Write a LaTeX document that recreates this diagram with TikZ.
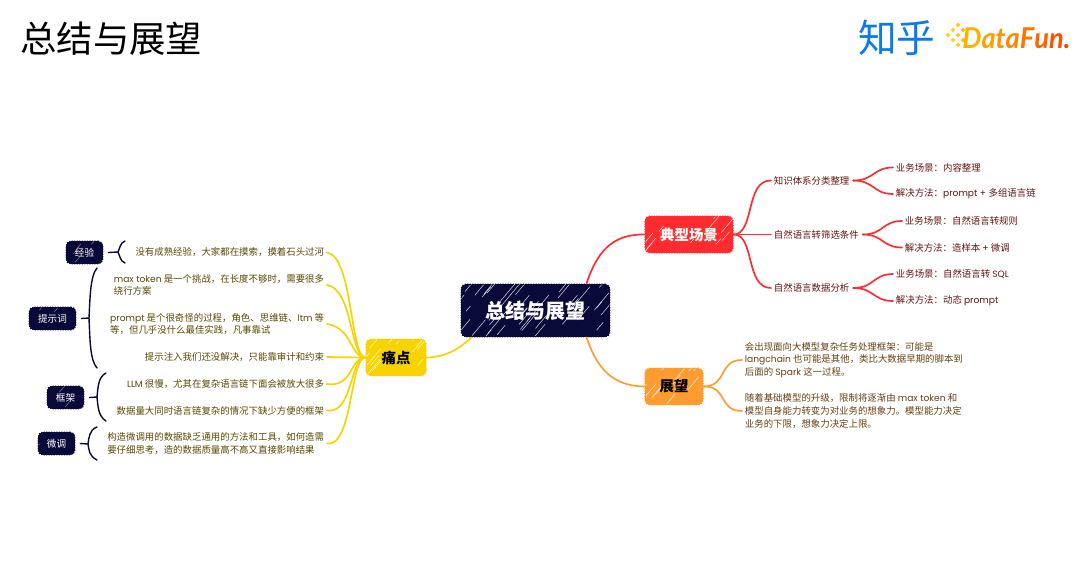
\documentclass[tikz,border=0pt]{standalone}
\usepackage{fontspec}
\setmainfont{Noto Sans CJK SC}
\newfontfamily\logofont{Lato}
\newfontfamily\latf[Scale=0.97]{Poppins}
\newcommand{\lat}[1]{{\latf #1}}
\usetikzlibrary{calc}
\definecolor{navy}{HTML}{0A0A3A}
\definecolor{ylw}{HTML}{F7D400}
\definecolor{rd}{HTML}{FF2B2E}
\definecolor{org}{HTML}{FF9C30}
\definecolor{ytext}{HTML}{594900}
\definecolor{rtext}{HTML}{651414}
\definecolor{otext}{HTML}{654214}
\definecolor{zhihu}{HTML}{0A7BEF}
\newcommand{\hatchlines}[4]{%
  \foreach \k in {1,...,#1}{%
    \pgfmathsetmacro{\hx}{rnd}\pgfmathsetmacro{\hy}{rnd}\pgfmathsetmacro{\hl}{3+rnd*#3}%
    \draw[#2,line width=.4pt,opacity=#4,solid]
      ($(path picture bounding box.south west)!\hx!(path picture bounding box.south east)$)
      ++(-8,{-50*\hy}) -- ++(50:\hl pt);
  }}
\tikzset{
  x=.75pt,y=-.75pt,
  sketch/.style={rounded corners=3.5pt,inner sep=0pt,align=center,densely dotted,line width=.9pt},
  rootbox/.style={sketch,draw=navy,fill=navy,text=white,minimum width=111.5pt,minimum height=39.5pt,
    font=\fontsize{15}{18}\selectfont\bfseries,path picture={\hatchlines{40}{white}{22}{.8}}},
  mainbox/.style={sketch,draw=#1,fill=#1,minimum height=27.5pt,
    font=\fontsize{10.8}{13}\selectfont\bfseries,path picture={\hatchlines{16}{white}{14}{.8}}},
  tagbox/.style={sketch,draw=navy,fill=navy,text=white,minimum height=17pt,
    font=\fontsize{7.2}{9}\selectfont,path picture={\hatchlines{7}{white}{5}{.45}}},
  ytxt/.style={text=ytext,font=\fontsize{7.07}{9.4}\selectfont,inner xsep=2pt,inner ysep=0pt,align=left,anchor=east},
  rtxt/.style={text=rtext,font=\fontsize{7.07}{9.4}\selectfont,inner xsep=2pt,inner ysep=0pt,anchor=west},
  otxt/.style={text=otext,font=\fontsize{7.07}{9.4}\selectfont,inner xsep=2pt,inner ysep=0pt,align=left,anchor=west},
  yl/.style={draw=ylw,line width=1.25pt,line cap=round},
  rl/.style={draw=rd,line width=1.25pt,line cap=round},
  ol/.style={draw=org,line width=1.25pt,line cap=round},
  nl/.style={draw=navy,line width=1.05pt,line cap=round},
  logosq/.style={fill=#1,rotate=45,minimum size=2.6pt,inner sep=0pt,draw=none},
}
\begin{document}
\begin{tikzpicture}
\pgfmathsetseed{42}
\useasboundingbox (0,0) rectangle (1080,565);
\fill[white] (0,0) rectangle (1080,565);

% header
\node[anchor=west,inner sep=0pt,font=\fontsize{27.3}{30}\selectfont] (title) at (20,39) {总结与展望};
\node[anchor=west,inner sep=0pt,text=zhihu,font=\fontsize{29}{32}\selectfont] (zh) at (858,38) {知乎};
\foreach \px/\py/\c in {948/35/FFD21F,953/30/FFD21F,958/25/FFC81F,953/40/FFD21F,958/35/FFC81F,963/30/FFB81F,958/45/FFC81F,963/40/FFB81F}{
  \definecolor{tmpc}{HTML}{\c}
  \node[logosq=tmpc] at (\px,\py) {};
}
\node[anchor=west,inner sep=0pt,xscale=.95,transform shape,font=\logofont\fontsize{21.5}{24}\selectfont\bfseries\itshape] (df) at (962,38)
 {\textcolor[HTML]{FFB000}{D}\textcolor[HTML]{FFA000}{a}\textcolor[HTML]{FF9300}{t}\textcolor[HTML]{FF8600}{a}\textcolor[HTML]{FF7400}{F}\textcolor[HTML]{FF6200}{u}\textcolor[HTML]{FF5000}{n}\textcolor[HTML]{FF3C00}{.}};

% main nodes
\node[rootbox] (root) at (535.5,310.5) {总结与展望};
\node[mainbox=rd,text=white,minimum width=66pt] (scene) at (689,234.5) {典型场景};
\node[mainbox=org,text=black,minimum width=43.5pt] (outlook) at (674,386.5) {展望};
\node[mainbox=ylw,text=black,minimum width=45pt] (pain) at (396,357.5) {痛点};

% right: scenes
\node[rtxt] (s1) at (771,180.5) {知识体系分类整理};
\node[rtxt] (s2) at (771,234.5) {自然语言转筛选条件};
\node[rtxt] (s3) at (771,288) {自然语言数据分析};
\node[rtxt] (s1a) at (893,167.5) {业务场景：内容整理};
\node[rtxt] (s1b) at (893,194) {解决方法：\lat{prompt + }多组语言链};
\node[rtxt] (s2a) at (902,221) {业务场景：自然语言转规则};
\node[rtxt] (s2b) at (902,247.5) {解决方法：造样本 \lat{+} 微调};
\node[rtxt] (s3a) at (893,274) {业务场景：自然语言转 \lat{SQL}};
\node[rtxt] (s3b) at (893,301) {解决方法：动态 \lat{prompt}};

% right: outlook
\node[otxt] (o1) at (742,360) {会出现面向大模型复杂任务处理框架：可能是\\\lat{langchain} 也可能是其他，类比大数据早期的脚本到\\后面的 \lat{Spark} 这一过程。};
\node[otxt] (o2) at (742,411) {随着基础模型的升级，限制将逐渐由 \lat{max token} 和\\模型自身能力转变为对业务的想象力。模型能力决定\\业务的下限，想象力决定上限。};

% left text
\node[ytxt] (p1) at (327,252.5) {没有成熟经验，大家都在摸索，摸着石头过河};
\node[ytxt] (p2) at (327,285) {\lat{max token} 是一个挑战，在长度不够时，需要很多\\绕行方案};
\node[ytxt] (p3) at (327,324) {\lat{prompt} 是个很奇怪的过程，角色、思维链、\lat{ltm} 等\\等，但几乎没什么最佳实践，凡事靠试};
\node[ytxt] (p4) at (327,357) {提示注入我们还没解决，只能靠审计和约束};
\node[ytxt] (p5) at (327,384) {\lat{LLM} 很慢，尤其在复杂语言链下面会被放大很多};
\node[ytxt] (p6) at (327,410.5) {数据量大同时语言链复杂的情况下缺少方便的框架};
\node[ytxt] (p7) at (327,443.5) {构造微调用的数据缺乏通用的方法和工具，如何造需\\要仔细思考，造的数据质量高不高又直接影响结果};

% tags
\node[tagbox,minimum width=27.5pt] (t1) at (84.5,252.5) {经验};
\node[tagbox,minimum width=35pt] (t2) at (52.5,318.5) {提示词};
\node[tagbox,minimum width=27.5pt] (t3) at (65.5,397.5) {框架};
\node[tagbox,minimum width=27.5pt] (t4) at (56.5,443.5) {微调};

% brace anchors
\coordinate (b1m) at (118,252); \coordinate (b1t) at (125,241); \coordinate (b1b) at (125,263);
\coordinate (b2m) at (89,318);  \coordinate (b2t) at (97,268);  \coordinate (b2b) at (97,368);
\coordinate (b3m) at (97,397);  \coordinate (b3t) at (106,373); \coordinate (b3b) at (106,421);
\coordinate (b4m) at (88,444);  \coordinate (b4t) at (97,427);  \coordinate (b4b) at (97,460);

% root connectors
\draw[rl] ($(root.north)+(51,0)$) .. controls (597,252) and (612,234) .. (scene.west);
\draw[ol] ($(root.south)+(51,0)$) .. controls (597,368) and (612,386) .. (outlook.west);
\draw[yl] ($(root.south)+(-64,0)$) .. controls (458,350) and (445,357) .. (pain.east);

% scene connectors
\draw[rl] (scene.east) .. controls (755,234) and (745,180) .. (s1.west);
\draw[rl] (scene.east) -- (s2.west);
\draw[rl] (scene.east) .. controls (755,234) and (745,288) .. (s3.west);
\foreach \a/\b in {s1/s1a,s1/s1b,s2/s2a,s2/s2b,s3/s3a,s3/s3b}{
  \draw[rl] ($(\a.east)+(1,0)$) .. controls ($(\a.east)+(22,0)$) and ($(\b.west)+(-20,0)$) .. (\b.west);
}
% outlook connectors
\draw[ol] (outlook.east) .. controls (728,386) and (718,360) .. (o1.west);
\draw[ol] (outlook.east) .. controls (728,386) and (718,411) .. (o2.west);

% pain connectors
\foreach \n in {p1,p2,p3,p5,p6,p7}{
  \draw[yl] (\n.east) .. controls ($(\n.east)+(26,4)$) and (350,357) .. (pain.west);
}
\draw[yl] (p4.east) -- (pain.west);

% braces
\draw[nl] ($(t1.east)+(5,0)$) -- (b1m);
\draw[nl] (b1t) .. controls (120,243) and (120,248) .. (b1m) .. controls (120,256) and (120,261) .. (b1b);
\draw[nl] ($(t2.east)+(5,0)$) -- (b2m);
\draw[nl] (b2t) .. controls (90,276) and (90,300) .. (b2m) .. controls (90,340) and (90,360) .. (b2b);
\draw[nl] ($(t3.east)+(5,0)$) -- (b3m);
\draw[nl] (b3t) .. controls (98,377) and (98,388) .. (b3m) .. controls (98,406) and (98,416) .. (b3b);
\draw[nl] ($(t4.east)+(5,0)$) -- (b4m);
\draw[nl] (b4t) .. controls (89,430) and (89,438) .. (b4m) .. controls (89,450) and (89,456) .. (b4b);
\end{tikzpicture}
\end{document}
